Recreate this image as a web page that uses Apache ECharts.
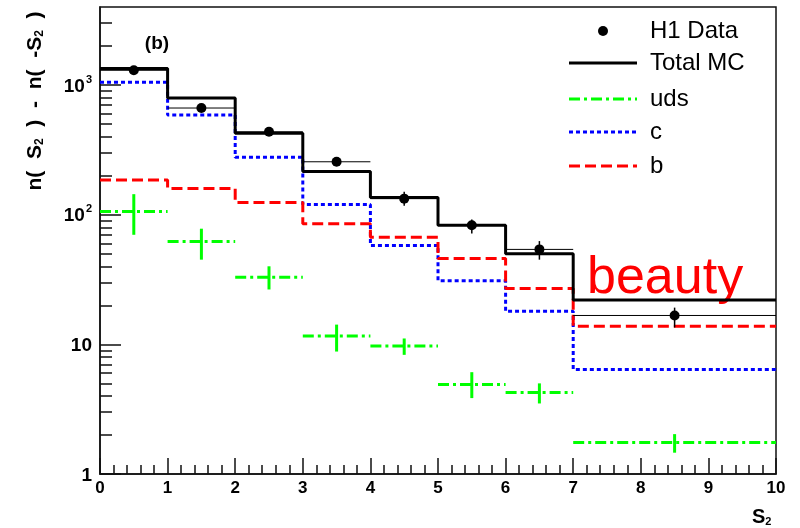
<!DOCTYPE html>
<html>
<head>
<meta charset="utf-8">
<script src="https://cdn.jsdelivr.net/npm/echarts@6/dist/echarts.min.js"></script>
<style>
  html, body { margin: 0; padding: 0; background: #fff; }
  #chart { width: 800px; height: 528px; }
</style>
</head>
<body>
<div id="chart"></div>
<script>
// bin edges of S2 and bin centres (last bin is 7..10)
const binEdges = [0, 1, 2, 3, 4, 5, 6, 7, 10];
const binCenters = [0.5, 1.5, 2.5, 3.5, 4.5, 5.5, 6.5, 8.5];

// MC histograms
const totalMC = [1340, 795, 425, 215, 136, 83, 50, 22];
const charmMC = [1050, 587, 277, 120, 58, 31, 18, 6.4];
const beautyMC = [185, 159, 124, 85, 67, 46, 27, 13.8];

// uds with its error range
const udsMC = [106, 62, 33, 11.6, 9.7, 4.9, 4.25, 1.75];
const udsLow = [70, 45, 26.5, 8.8, 8.3, 3.85, 3.5, 1.46];
const udsHigh = [144, 78, 40, 14.2, 11.1, 6.1, 5.0, 2.03];

// H1 data with errors
const h1Data = [1300, 665, 436, 256, 133, 83, 54, 16.7];
const h1Low = [1240, 625, 415, 245, 117, 71.5, 45, 13.5];
const h1High = [1360, 705, 458, 268, 150, 92, 62.6, 19.2];

// y axis ticks
const yMajorTicks = [1, 10, 100, 1000];
const yMinorTicks = [2, 3, 4, 5, 6, 7, 8, 9, 20, 30, 40, 50, 60, 70, 80, 90,
  200, 300, 400, 500, 600, 700, 800, 900, 2000, 3000];

const FONT = 'Liberation Sans, Arial, Helvetica, sans-serif';

function stepData(vals) {
  return binEdges.map((e, i) => [e, vals[Math.min(i, vals.length - 1)]]);
}

function errData(vals, low, high) {
  return vals.map((v, i) => [binEdges[i], binEdges[i + 1], binCenters[i], v, low[i], high[i]]);
}

function makeErrRender(opt) {
  return function (params, api) {
    const lo = api.value(0), hi = api.value(1), c = api.value(2);
    const v = api.value(3), l = api.value(4), h = api.value(5);
    const pL = api.coord([lo, v]);
    const pR = api.coord([hi, v]);
    const pT = api.coord([c, h]);
    const pB = api.coord([c, l]);
    const pC = api.coord([c, v]);
    const children = [
      {
        type: 'line',
        shape: { x1: pL[0], y1: pL[1], x2: pR[0], y2: pR[1] },
        style: { stroke: opt.color, lineWidth: opt.hWidth, lineDash: opt.hDash || null }
      },
      {
        type: 'line',
        shape: { x1: pT[0], y1: pT[1], x2: pB[0], y2: pB[1] },
        style: { stroke: opt.color, lineWidth: opt.vWidth }
      }
    ];
    if (opt.marker) {
      children.push({
        type: 'circle',
        shape: { cx: pC[0], cy: pC[1], r: opt.marker },
        style: { fill: opt.color }
      });
    }
    return { type: 'group', children: children };
  };
}

const chart = echarts.init(document.getElementById('chart'), null, { renderer: 'canvas' });

const legendRows = [
  { name: 'H1 Data', y: 31 },
  { name: 'Total MC', y: 63, color: '#000', dash: null },
  { name: 'uds', y: 99, color: '#00ff00', dash: [11, 4, 3, 4] },
  { name: 'c', y: 132, color: '#0000ff', dash: [4, 3] },
  { name: 'b', y: 166, color: '#ff0000', dash: [11, 5] }
];

const legendGraphics = [];
legendRows.forEach(r => {
  if (r.color) {
    legendGraphics.push({
      type: 'line',
      shape: { x1: 569, y1: r.y, x2: 637, y2: r.y },
      style: { stroke: r.color, lineWidth: 3, lineDash: r.dash }
    });
  } else {
    legendGraphics.push({
      type: 'circle',
      shape: { cx: 603, cy: r.y, r: 5 },
      style: { fill: '#000' }
    });
  }
  legendGraphics.push({
    type: 'text',
    x: 650, y: r.y,
    style: { text: r.name, font: '24px ' + FONT, fill: '#000', verticalAlign: 'middle' }
  });
});

chart.setOption({
  animation: false,
  backgroundColor: '#fff',
  grid: {
    left: 100, right: 24, top: 7, bottom: 54,
    containLabel: false,
    show: true, borderColor: '#111', borderWidth: 1.5
  },
  xAxis: {
    type: 'value',
    min: 0, max: 10, interval: 1,
    axisLine: { lineStyle: { color: '#111', width: 1.5 } },
    axisTick: { inside: true, length: 16, lineStyle: { color: '#111', width: 1.5 } },
    minorTick: { show: true, splitNumber: 5, length: 9, lineStyle: { color: '#111', width: 1.5 } },
    axisLabel: { color: '#000', fontFamily: FONT, fontWeight: 'bold', fontSize: 17, margin: 6 },
    splitLine: { show: false }
  },
  yAxis: [
    {
      type: 'log', logBase: 10,
      min: 1, max: 4000,
      axisLine: { lineStyle: { color: '#111', width: 1.5 } },
      axisTick: { inside: true, length: 21, customValues: yMajorTicks, lineStyle: { color: '#111', width: 1.5 } },
      axisLabel: {
        customValues: yMajorTicks,
        margin: 8,
        formatter: function (v) {
          const p = Math.round(Math.log10(v));
          if (p === 0) return '{b|1}';
          if (p === 1) return '{b|10}';
          return '{b|10}{s|' + p + '}';
        },
        rich: {
          b: { color: '#000', fontFamily: FONT, fontWeight: 'bold', fontSize: 19, verticalAlign: 'bottom', lineHeight: 22 },
          s: { color: '#000', fontFamily: FONT, fontWeight: 'bold', fontSize: 11, verticalAlign: 'top', lineHeight: 22, padding: [0, 0, 10, 1] }
        }
      },
      splitLine: { show: false }
    },
    {
      type: 'log', logBase: 10,
      min: 1, max: 4000,
      position: 'left',
      axisLine: { show: false },
      axisTick: { inside: true, length: 12, customValues: yMinorTicks, lineStyle: { color: '#111', width: 1.5 } },
      axisLabel: { show: false },
      splitLine: { show: false }
    }
  ],
  graphic: [
    {
      type: 'text',
      x: 157, y: 44,
      style: { text: '(b)', font: 'bold 19px ' + FONT, fill: '#000', align: 'center', verticalAlign: 'middle' }
    },
    {
      type: 'text',
      x: 587, y: 279,
      style: { text: 'beauty', font: '52px ' + FONT, fill: '#ff0000', verticalAlign: 'middle' }
    },
    {
      type: 'text',
      x: 34, y: 101,
      rotation: Math.PI / 2,
      style: {
        text: '{t|n(  S}{s|2}{t|  )  -  n(  -S}{s|2}{t|  )}',
        align: 'center', verticalAlign: 'middle',
        rich: {
          t: { fontFamily: FONT, fontWeight: 'bold', fontSize: 21, fill: '#000', lineHeight: 24, verticalAlign: 'bottom' },
          s: { fontFamily: FONT, fontWeight: 'bold', fontSize: 12, fill: '#000', lineHeight: 24, verticalAlign: 'bottom', padding: [6, 0, 0, 0] }
        }
      }
    },
    {
      type: 'text',
      x: 752, y: 515,
      style: {
        text: '{t|S}{s|2}',
        verticalAlign: 'middle',
        rich: {
          t: { fontFamily: FONT, fontWeight: 'bold', fontSize: 20, fill: '#000', lineHeight: 24, verticalAlign: 'bottom' },
          s: { fontFamily: FONT, fontWeight: 'bold', fontSize: 11, fill: '#000', lineHeight: 24, verticalAlign: 'bottom', padding: [6, 0, 0, 0] }
        }
      }
    }
  ].concat(legendGraphics),
  series: [
    {
      name: 'c', type: 'line', step: 'end', symbol: 'none', z: 3,
      data: stepData(charmMC),
      lineStyle: { color: '#0000ff', width: 3, type: [4, 3] }
    },
    {
      name: 'b', type: 'line', step: 'end', symbol: 'none', z: 3,
      data: stepData(beautyMC),
      lineStyle: { color: '#ff0000', width: 3, type: [11, 5] }
    },
    {
      name: 'Total MC', type: 'line', step: 'end', symbol: 'none', z: 4,
      data: stepData(totalMC),
      lineStyle: { color: '#000', width: 3 }
    },
    {
      name: 'uds', type: 'custom', z: 5, clip: true,
      data: errData(udsMC, udsLow, udsHigh),
      renderItem: makeErrRender({ color: '#00ff00', hWidth: 3, hDash: [11, 4, 3, 4], vWidth: 3 })
    },
    {
      name: 'H1 Data', type: 'custom', z: 6, clip: true,
      data: errData(h1Data, h1Low, h1High),
      renderItem: makeErrRender({ color: '#000', hWidth: 1, vWidth: 1.5, marker: 5 })
    }
  ]
});
</script>
</body>
</html>
